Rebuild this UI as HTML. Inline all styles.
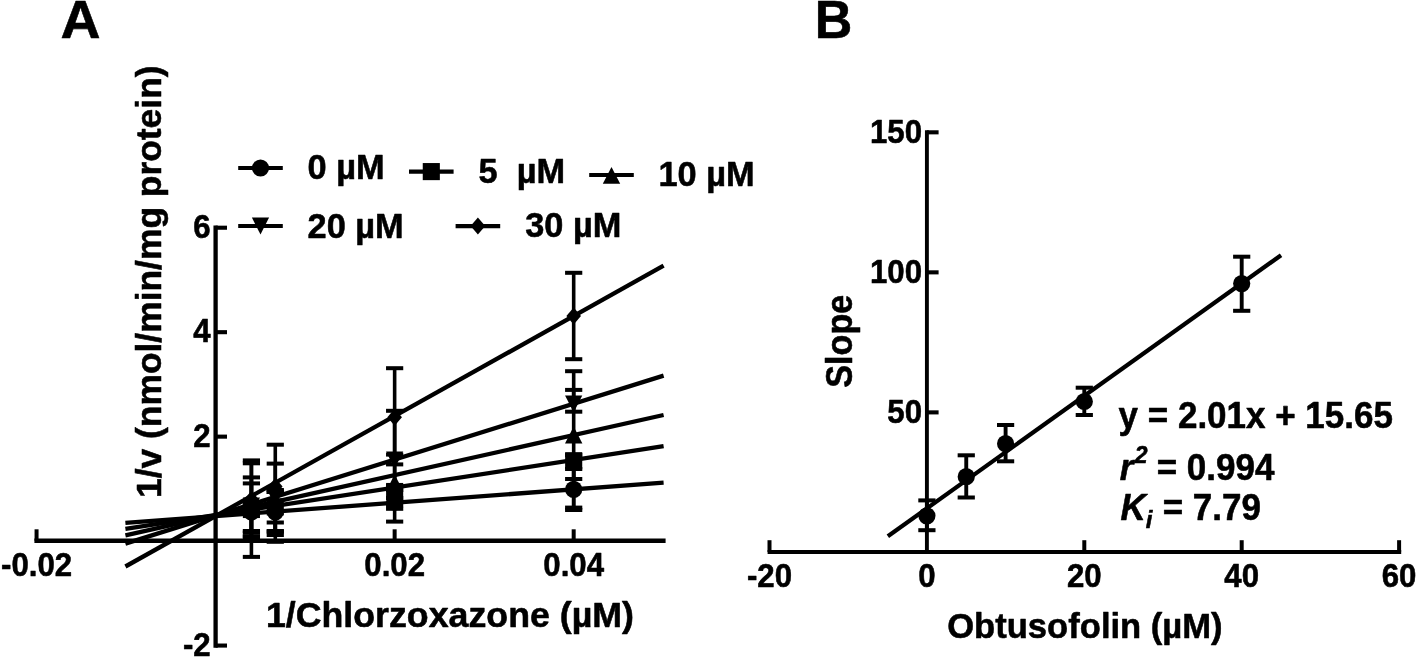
<!DOCTYPE html>
<html lang="en">
<head>
<meta charset="utf-8">
<title>Obtusofolin inhibition of chlorzoxazone metabolism: Lineweaver-Burk plot and secondary plot</title>
<style>
html,body{margin:0;padding:0;background:#fff;}
body{width:1418px;height:658px;overflow:hidden;}
svg{display:block;filter:grayscale(1);}
svg text{font-family:"Liberation Sans", sans-serif;font-weight:bold;fill:#000;stroke:#000;stroke-width:0.55px;stroke-linejoin:round;}
</style>
</head>
<body>
<svg width="1418" height="658" viewBox="0 0 1418 658">
<rect x="0" y="0" width="1418" height="658" fill="#fff"/>
<g id="panelA">
<text transform="translate(60.50 38.30) scale(1.0660 1.0400)" font-size="52">A</text>
<line x1="125.40" y1="522.80" x2="663.60" y2="482.60" stroke="#000" stroke-width="4.3" stroke-linecap="butt"/>
<line x1="125.40" y1="528.90" x2="663.60" y2="446.20" stroke="#000" stroke-width="4.3" stroke-linecap="butt"/>
<line x1="125.40" y1="535.30" x2="663.60" y2="415.00" stroke="#000" stroke-width="4.3" stroke-linecap="butt"/>
<line x1="125.40" y1="543.60" x2="663.60" y2="375.60" stroke="#000" stroke-width="4.3" stroke-linecap="butt"/>
<line x1="125.40" y1="566.50" x2="663.60" y2="265.70" stroke="#000" stroke-width="4.3" stroke-linecap="butt"/>
<line x1="34.40" y1="540.80" x2="665.60" y2="540.80" stroke="#000" stroke-width="4.4" stroke-linecap="butt"/>
<line x1="215.60" y1="225.62" x2="215.60" y2="647.66" stroke="#000" stroke-width="4.3" stroke-linecap="butt"/>
<line x1="36.56" y1="540.80" x2="36.56" y2="529.30" stroke="#000" stroke-width="4.0" stroke-linecap="butt"/>
<line x1="394.64" y1="540.80" x2="394.64" y2="529.30" stroke="#000" stroke-width="4.0" stroke-linecap="butt"/>
<line x1="573.68" y1="540.80" x2="573.68" y2="529.30" stroke="#000" stroke-width="4.0" stroke-linecap="butt"/>
<line x1="215.60" y1="227.72" x2="227.00" y2="227.72" stroke="#000" stroke-width="4.1" stroke-linecap="butt"/>
<line x1="215.60" y1="332.18" x2="227.00" y2="332.18" stroke="#000" stroke-width="4.1" stroke-linecap="butt"/>
<line x1="215.60" y1="436.64" x2="227.00" y2="436.64" stroke="#000" stroke-width="4.1" stroke-linecap="butt"/>
<line x1="215.60" y1="645.56" x2="227.00" y2="645.56" stroke="#000" stroke-width="4.1" stroke-linecap="butt"/>
<text transform="translate(36.56 575.70) scale(0.9750 1.0300)" font-size="32" text-anchor="middle">-0.02</text>
<text transform="translate(394.64 575.70) scale(0.9750 1.0300)" font-size="32" text-anchor="middle">0.02</text>
<text transform="translate(573.68 575.70) scale(0.9750 1.0300)" font-size="32" text-anchor="middle">0.04</text>
<text transform="translate(210.70 237.72) scale(0.9750 1.0300)" font-size="32" text-anchor="end">6</text>
<text transform="translate(210.70 342.18) scale(0.9750 1.0300)" font-size="32" text-anchor="end">4</text>
<text transform="translate(210.70 446.64) scale(0.9750 1.0300)" font-size="32" text-anchor="end">2</text>
<text transform="translate(210.70 655.56) scale(0.9750 1.0300)" font-size="32" text-anchor="end">-2</text>
<text transform="translate(265.90 626.60) scale(1.0215 1.0000)" font-size="35">1/Chlorzoxazone (µM)</text>
<text transform="translate(161.30 498.00) rotate(-90) scale(1.0115 1.0000)" font-size="35">1/v (nmol/min/mg protein)</text>
<line x1="251.41" y1="505.00" x2="251.41" y2="531.00" stroke="#000" stroke-width="3.6" stroke-linecap="butt"/>
<rect x="242.81" y="503.00" width="17.20" height="4.00" fill="#000"/>
<rect x="242.81" y="529.00" width="17.20" height="4.00" fill="#000"/>
<line x1="251.41" y1="483.40" x2="251.41" y2="536.20" stroke="#000" stroke-width="3.6" stroke-linecap="butt"/>
<rect x="242.81" y="481.40" width="17.20" height="4.00" fill="#000"/>
<rect x="242.81" y="534.20" width="17.20" height="4.00" fill="#000"/>
<line x1="251.41" y1="477.40" x2="251.41" y2="537.00" stroke="#000" stroke-width="3.6" stroke-linecap="butt"/>
<rect x="242.81" y="475.40" width="17.20" height="4.00" fill="#000"/>
<rect x="242.81" y="535.00" width="17.20" height="4.00" fill="#000"/>
<line x1="251.41" y1="463.30" x2="251.41" y2="556.90" stroke="#000" stroke-width="3.6" stroke-linecap="butt"/>
<rect x="242.81" y="461.30" width="17.20" height="4.00" fill="#000"/>
<rect x="242.81" y="554.90" width="17.20" height="4.00" fill="#000"/>
<line x1="251.41" y1="460.40" x2="251.41" y2="532.60" stroke="#000" stroke-width="3.6" stroke-linecap="butt"/>
<rect x="242.81" y="458.40" width="17.20" height="4.00" fill="#000"/>
<rect x="242.81" y="530.60" width="17.20" height="4.00" fill="#000"/>
<circle cx="251.41" cy="512.00" r="8.6" fill="#000"/>
<rect x="242.86" y="500.95" width="17.10" height="17.10" fill="#000"/>
<polygon points="242.71,515.80 260.11,515.80 251.41,498.90" fill="#000"/>
<polygon points="242.81,497.60 260.01,497.60 251.41,514.60" fill="#000"/>
<polygon points="244.11,499.30 251.41,490.80 258.71,499.30 251.41,507.80" fill="#000"/>
<line x1="275.28" y1="492.00" x2="275.28" y2="541.80" stroke="#000" stroke-width="3.6" stroke-linecap="butt"/>
<rect x="266.68" y="490.00" width="17.20" height="4.00" fill="#000"/>
<rect x="266.68" y="539.80" width="17.20" height="4.00" fill="#000"/>
<line x1="275.28" y1="492.00" x2="275.28" y2="535.00" stroke="#000" stroke-width="3.6" stroke-linecap="butt"/>
<rect x="266.68" y="490.00" width="17.20" height="4.00" fill="#000"/>
<rect x="266.68" y="533.00" width="17.20" height="4.00" fill="#000"/>
<line x1="275.28" y1="490.00" x2="275.28" y2="531.00" stroke="#000" stroke-width="3.6" stroke-linecap="butt"/>
<rect x="266.68" y="488.00" width="17.20" height="4.00" fill="#000"/>
<rect x="266.68" y="529.00" width="17.20" height="4.00" fill="#000"/>
<line x1="275.28" y1="463.60" x2="275.28" y2="531.60" stroke="#000" stroke-width="3.6" stroke-linecap="butt"/>
<rect x="266.68" y="461.60" width="17.20" height="4.00" fill="#000"/>
<rect x="266.68" y="529.60" width="17.20" height="4.00" fill="#000"/>
<line x1="275.28" y1="444.70" x2="275.28" y2="522.50" stroke="#000" stroke-width="3.6" stroke-linecap="butt"/>
<rect x="266.68" y="442.70" width="17.20" height="4.00" fill="#000"/>
<rect x="266.68" y="520.50" width="17.20" height="4.00" fill="#000"/>
<circle cx="275.28" cy="511.80" r="8.6" fill="#000"/>
<rect x="266.73" y="498.35" width="17.10" height="17.10" fill="#000"/>
<polygon points="266.58,510.80 283.98,510.80 275.28,493.90" fill="#000"/>
<polygon points="266.68,489.10 283.88,489.10 275.28,506.10" fill="#000"/>
<polygon points="267.98,486.40 275.28,477.90 282.58,486.40 275.28,494.90" fill="#000"/>
<line x1="394.64" y1="490.00" x2="394.64" y2="521.60" stroke="#000" stroke-width="3.6" stroke-linecap="butt"/>
<rect x="386.04" y="488.00" width="17.20" height="4.00" fill="#000"/>
<rect x="386.04" y="519.60" width="17.20" height="4.00" fill="#000"/>
<line x1="394.64" y1="486.00" x2="394.64" y2="498.00" stroke="#000" stroke-width="3.6" stroke-linecap="butt"/>
<rect x="386.04" y="484.00" width="17.20" height="4.00" fill="#000"/>
<rect x="386.04" y="496.00" width="17.20" height="4.00" fill="#000"/>
<line x1="394.64" y1="454.60" x2="394.64" y2="508.80" stroke="#000" stroke-width="3.6" stroke-linecap="butt"/>
<rect x="386.04" y="452.60" width="17.20" height="4.00" fill="#000"/>
<rect x="386.04" y="506.80" width="17.20" height="4.00" fill="#000"/>
<line x1="394.64" y1="410.80" x2="394.64" y2="505.40" stroke="#000" stroke-width="3.6" stroke-linecap="butt"/>
<rect x="386.04" y="408.80" width="17.20" height="4.00" fill="#000"/>
<rect x="386.04" y="503.40" width="17.20" height="4.00" fill="#000"/>
<line x1="394.64" y1="368.20" x2="394.64" y2="464.40" stroke="#000" stroke-width="3.6" stroke-linecap="butt"/>
<rect x="386.04" y="366.20" width="17.20" height="4.00" fill="#000"/>
<rect x="386.04" y="462.40" width="17.20" height="4.00" fill="#000"/>
<circle cx="394.64" cy="502.00" r="8.6" fill="#000"/>
<rect x="386.09" y="482.95" width="17.10" height="17.10" fill="#000"/>
<polygon points="385.94,491.30 403.34,491.30 394.64,474.40" fill="#000"/>
<polygon points="386.04,451.60 403.24,451.60 394.64,468.60" fill="#000"/>
<polygon points="387.34,417.20 394.64,408.70 401.94,417.20 394.64,425.70" fill="#000"/>
<line x1="573.68" y1="469.00" x2="573.68" y2="510.00" stroke="#000" stroke-width="3.6" stroke-linecap="butt"/>
<rect x="565.08" y="467.00" width="17.20" height="4.00" fill="#000"/>
<rect x="565.08" y="508.00" width="17.20" height="4.00" fill="#000"/>
<line x1="573.68" y1="455.00" x2="573.68" y2="479.00" stroke="#000" stroke-width="3.6" stroke-linecap="butt"/>
<rect x="565.08" y="453.00" width="17.20" height="4.00" fill="#000"/>
<rect x="565.08" y="477.00" width="17.20" height="4.00" fill="#000"/>
<line x1="573.68" y1="371.20" x2="573.68" y2="507.60" stroke="#000" stroke-width="3.6" stroke-linecap="butt"/>
<rect x="565.08" y="369.20" width="17.20" height="4.00" fill="#000"/>
<rect x="565.08" y="505.60" width="17.20" height="4.00" fill="#000"/>
<line x1="573.68" y1="389.90" x2="573.68" y2="411.70" stroke="#000" stroke-width="3.6" stroke-linecap="butt"/>
<rect x="565.08" y="387.90" width="17.20" height="4.00" fill="#000"/>
<rect x="565.08" y="409.70" width="17.20" height="4.00" fill="#000"/>
<line x1="573.68" y1="272.80" x2="573.68" y2="359.20" stroke="#000" stroke-width="3.6" stroke-linecap="butt"/>
<rect x="565.08" y="270.80" width="17.20" height="4.00" fill="#000"/>
<rect x="565.08" y="357.20" width="17.20" height="4.00" fill="#000"/>
<circle cx="573.68" cy="489.40" r="8.6" fill="#000"/>
<rect x="565.13" y="452.15" width="17.10" height="17.10" fill="#000"/>
<polygon points="564.98,443.50 582.38,443.50 573.68,426.60" fill="#000"/>
<polygon points="565.08,395.40 582.28,395.40 573.68,412.40" fill="#000"/>
<polygon points="566.38,316.00 573.68,307.50 580.98,316.00 573.68,324.50" fill="#000"/>
<line x1="238.20" y1="168.00" x2="282.80" y2="168.00" stroke="#000" stroke-width="4.1" stroke-linecap="butt"/>
<circle cx="260.50" cy="168.00" r="8.6" fill="#000"/>
<text transform="translate(307.60 179.30) scale(0.9810 1.0050)" font-size="35">0 µM</text>
<line x1="409.00" y1="171.60" x2="453.60" y2="171.60" stroke="#000" stroke-width="4.1" stroke-linecap="butt"/>
<rect x="422.75" y="163.05" width="17.10" height="17.10" fill="#000"/>
<text transform="translate(478.60 183.00) scale(0.9810 1.0050)" font-size="35">5&#160;&#160;µM</text>
<line x1="589.20" y1="175.00" x2="633.80" y2="175.00" stroke="#000" stroke-width="4.1" stroke-linecap="butt"/>
<polygon points="602.80,183.80 620.20,183.80 611.50,166.90" fill="#000"/>
<text transform="translate(658.50 185.90) scale(0.9810 1.0050)" font-size="35">10 µM</text>
<line x1="238.20" y1="226.00" x2="282.80" y2="226.00" stroke="#000" stroke-width="4.1" stroke-linecap="butt"/>
<polygon points="251.90,217.60 269.10,217.60 260.50,234.60" fill="#000"/>
<text transform="translate(307.60 237.60) scale(0.9810 1.0050)" font-size="35">20 µM</text>
<line x1="455.60" y1="226.10" x2="500.20" y2="226.10" stroke="#000" stroke-width="4.1" stroke-linecap="butt"/>
<polygon points="470.60,226.10 477.90,217.60 485.20,226.10 477.90,234.60" fill="#000"/>
<text transform="translate(525.20 236.70) scale(0.9810 1.0050)" font-size="35">30 µM</text>
</g>
<g id="panelB">
<text transform="translate(814.80 38.30) scale(1.0000 1.0400)" font-size="52">B</text>
<line x1="887.85" y1="536.30" x2="1281.05" y2="255.20" stroke="#000" stroke-width="4.2" stroke-linecap="butt"/>
<line x1="767.60" y1="552.00" x2="1401.20" y2="552.00" stroke="#000" stroke-width="4.1" stroke-linecap="butt"/>
<line x1="926.90" y1="130.22" x2="926.90" y2="552.00" stroke="#000" stroke-width="3.9" stroke-linecap="butt"/>
<line x1="769.50" y1="552.00" x2="769.50" y2="540.20" stroke="#000" stroke-width="4.0" stroke-linecap="butt"/>
<line x1="1084.30" y1="552.00" x2="1084.30" y2="540.20" stroke="#000" stroke-width="4.0" stroke-linecap="butt"/>
<line x1="1241.70" y1="552.00" x2="1241.70" y2="540.20" stroke="#000" stroke-width="4.0" stroke-linecap="butt"/>
<line x1="1399.10" y1="552.00" x2="1399.10" y2="540.20" stroke="#000" stroke-width="4.0" stroke-linecap="butt"/>
<line x1="926.90" y1="412.38" x2="938.60" y2="412.38" stroke="#000" stroke-width="4.1" stroke-linecap="butt"/>
<line x1="926.90" y1="272.35" x2="938.60" y2="272.35" stroke="#000" stroke-width="4.1" stroke-linecap="butt"/>
<line x1="926.90" y1="132.32" x2="938.60" y2="132.32" stroke="#000" stroke-width="4.1" stroke-linecap="butt"/>
<text transform="translate(769.50 586.70) scale(0.9750 1.0300)" font-size="32" text-anchor="middle">-20</text>
<text transform="translate(926.90 586.70) scale(0.9750 1.0300)" font-size="32" text-anchor="middle">0</text>
<text transform="translate(1084.30 586.70) scale(0.9750 1.0300)" font-size="32" text-anchor="middle">20</text>
<text transform="translate(1241.70 586.70) scale(0.9750 1.0300)" font-size="32" text-anchor="middle">40</text>
<text transform="translate(1399.10 586.70) scale(0.9750 1.0300)" font-size="32" text-anchor="middle">60</text>
<text transform="translate(922.00 422.68) scale(0.9750 1.0300)" font-size="32" text-anchor="end">50</text>
<text transform="translate(922.00 282.65) scale(0.9750 1.0300)" font-size="32" text-anchor="end">100</text>
<text transform="translate(922.00 142.62) scale(0.9750 1.0300)" font-size="32" text-anchor="end">150</text>
<text transform="translate(1084.90 637.50) scale(0.9886 1.0000)" font-size="35" text-anchor="middle">Obtusofolin (µM)</text>
<text transform="translate(851.90 387.70) rotate(-90) scale(0.9760 1.0350)" font-size="35">Slope</text>
<line x1="926.90" y1="500.40" x2="926.90" y2="530.20" stroke="#000" stroke-width="3.9" stroke-linecap="butt"/>
<rect x="918.30" y="498.40" width="17.20" height="4.00" fill="#000"/>
<rect x="918.30" y="528.20" width="17.20" height="4.00" fill="#000"/>
<line x1="966.25" y1="455.30" x2="966.25" y2="497.50" stroke="#000" stroke-width="3.9" stroke-linecap="butt"/>
<rect x="957.65" y="453.30" width="17.20" height="4.00" fill="#000"/>
<rect x="957.65" y="495.50" width="17.20" height="4.00" fill="#000"/>
<line x1="1005.60" y1="425.00" x2="1005.60" y2="461.30" stroke="#000" stroke-width="3.9" stroke-linecap="butt"/>
<rect x="997.00" y="423.00" width="17.20" height="4.00" fill="#000"/>
<rect x="997.00" y="459.30" width="17.20" height="4.00" fill="#000"/>
<line x1="1084.30" y1="387.70" x2="1084.30" y2="415.00" stroke="#000" stroke-width="3.9" stroke-linecap="butt"/>
<rect x="1075.70" y="385.70" width="17.20" height="4.00" fill="#000"/>
<rect x="1075.70" y="413.00" width="17.20" height="4.00" fill="#000"/>
<line x1="1241.70" y1="256.70" x2="1241.70" y2="310.80" stroke="#000" stroke-width="3.9" stroke-linecap="butt"/>
<rect x="1233.10" y="254.70" width="17.20" height="4.00" fill="#000"/>
<rect x="1233.10" y="308.80" width="17.20" height="4.00" fill="#000"/>
<circle cx="926.90" cy="515.80" r="8.6" fill="#000"/>
<circle cx="966.25" cy="476.70" r="8.6" fill="#000"/>
<circle cx="1005.60" cy="443.70" r="8.6" fill="#000"/>
<circle cx="1084.30" cy="401.50" r="8.6" fill="#000"/>
<circle cx="1241.70" cy="283.60" r="8.6" fill="#000"/>
<text transform="translate(1118.60 427.60) scale(1.0000 1.0300)" font-size="35">y = 2.01x + 15.65</text>
<text transform="translate(1119.8 480.0) scale(1 1.03)" font-size="35"><tspan font-style="italic">r</tspan><tspan font-style="italic" font-size="23" dy="-16.4" dx="1.4">2</tspan><tspan dy="16.4" dx="-0.6"> = 0.994</tspan></text>
<text transform="translate(1120.4 519.9) scale(1 1.03)" font-size="35"><tspan font-style="italic">K</tspan><tspan font-style="italic" font-size="24" dy="7.9">i</tspan><tspan dy="-7.9" dx="0.6"> = 7.79</tspan></text>
</g>
</svg>
</body>
</html>
